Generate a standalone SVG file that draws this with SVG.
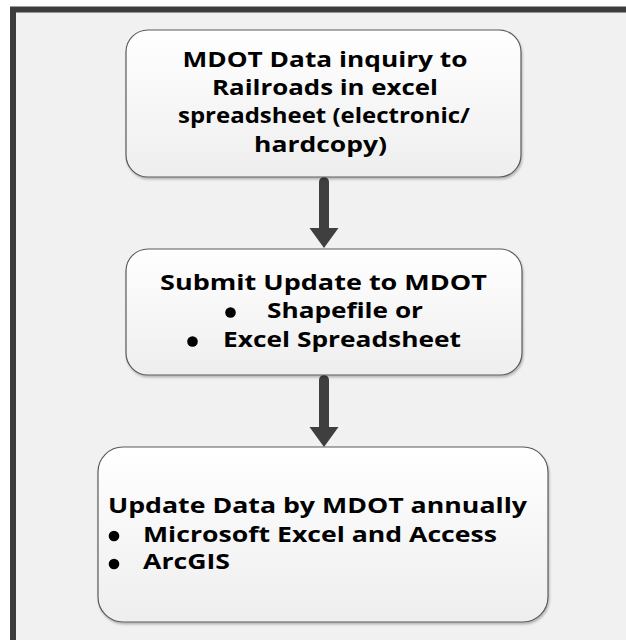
<svg xmlns="http://www.w3.org/2000/svg" width="626" height="640" viewBox="0 0 626 640">
<defs>
<linearGradient id="boxfill" x1="0" y1="0" x2="0" y2="1">
<stop offset="0" stop-color="#ffffff"/>
<stop offset="1" stop-color="#eeeeee"/>
</linearGradient>
<filter id="shadow" x="-5%" y="-5%" width="110%" height="115%">
<feDropShadow dx="1" dy="2" stdDeviation="1.2" flood-color="#000" flood-opacity="0.25"/>
</filter>
</defs>
<style>
.box{fill:url(#boxfill);stroke:#5a5a5a;stroke-width:1.2;filter:url(#shadow)}
.t{font-family:"Open Sans","Noto Sans","DejaVu Sans",sans-serif;font-weight:bold;font-size:21px;fill:#000}
.c{text-anchor:middle}
.bul{fill:#000}
.shaft{stroke:#3f3f3f;stroke-width:10;stroke-linecap:round;fill:none}
.head{fill:#3f3f3f}
</style>
<rect x="13" y="9.5" width="700" height="700" fill="#f1f1f1" stroke="#3c3c3c" stroke-width="6"/>
<g id="connectors">
<line class="shaft" x1="324" y1="182" x2="324" y2="230"/>
<polygon class="head" points="309.5,228 338.5,228 324,248"/>
<line class="shaft" x1="324" y1="380" x2="324" y2="429"/>
<polygon class="head" points="309.5,427 338.5,427 324,447"/>
</g>
<g id="node1">
<rect class="box" x="126" y="30" width="395" height="147" rx="22" ry="22"/>
<text class="t c" x="325" y="67" textLength="285" lengthAdjust="spacingAndGlyphs">MDOT Data inquiry to</text>
<text class="t c" x="325" y="95" textLength="226" lengthAdjust="spacingAndGlyphs">Railroads in excel</text>
<text class="t c" x="324" y="123" textLength="292" lengthAdjust="spacingAndGlyphs">spreadsheet (electronic/</text>
<text class="t c" x="320.5" y="152" textLength="133" lengthAdjust="spacingAndGlyphs">hardcopy)</text>
</g>
<g id="node2">
<rect class="box" x="126" y="249" width="396" height="126" rx="22" ry="22"/>
<text class="t c" x="323.5" y="290" textLength="327" lengthAdjust="spacingAndGlyphs">Submit Update to MDOT</text>
<circle class="bul" cx="230.5" cy="312.5" r="5.3"/>
<text class="t" x="267" y="318" textLength="156" lengthAdjust="spacingAndGlyphs">Shapefile or</text>
<circle class="bul" cx="192.5" cy="341.5" r="5.3"/>
<text class="t" x="223" y="347" textLength="238" lengthAdjust="spacingAndGlyphs">Excel Spreadsheet</text>
</g>
<g id="node3">
<rect class="box" x="98" y="447" width="450" height="175" rx="25" ry="25"/>
<text class="t" x="108" y="513" textLength="419" lengthAdjust="spacingAndGlyphs">Update Data by MDOT annually</text>
<circle class="bul" cx="114" cy="536" r="5.3"/>
<text class="t" x="143" y="542" textLength="354" lengthAdjust="spacingAndGlyphs">Microsoft Excel and Access</text>
<circle class="bul" cx="114" cy="564" r="5.3"/>
<text class="t" x="143" y="569" textLength="87" lengthAdjust="spacingAndGlyphs">ArcGIS</text>
</g>
</svg>
